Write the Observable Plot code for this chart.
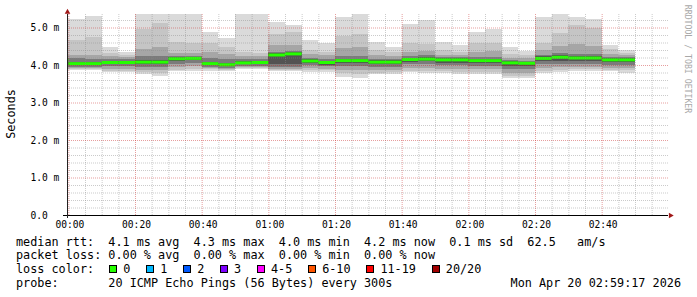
<!DOCTYPE html>
<html><head><meta charset="utf-8">
<script src="https://cdn.jsdelivr.net/npm/d3@7"></script>
<script src="https://cdn.jsdelivr.net/npm/@observablehq/plot@0.6"></script>
<style>
html,body{margin:0;padding:0;background:#fff;}
#wrap{position:relative;width:697px;height:297px;overflow:hidden;font-family:"DejaVu Sans Mono",monospace;background:#fff;}
#wrap svg{position:absolute;left:0;top:0;}
.lg{position:absolute;font-size:11.8px;line-height:14px;white-space:pre;color:#000;}
.box{position:absolute;width:6px;height:6px;border:1px solid #000;}
.rot{position:absolute;white-space:pre;}
</style></head><body><div id="wrap"></div>
<script>
// ---- data (minutes after 00:00, values in ms) ----
const binStart = [-5,0,5,10,15,20,25,30,35,40,45,50,55,60,65,70,75,80,85,90,95,100,105,110,115,120,125,130,135,140,145,150,155,160,165];
const median = [4.15,4.05,4.05,4.08,4.08,4.09,4.09,4.18,4.19,4.05,4.02,4.07,4.08,4.28,4.31,4.12,4.08,4.13,4.13,4.09,4.09,4.16,4.17,4.15,4.15,4.13,4.13,4.07,4.06,4.19,4.22,4.20,4.20,4.15,4.15];
const lossCount = [0,0,0,0,0,0,0,0,0,0,0,0,0,0,0,0,0,0,0,0,0,0,0,0,0,0,0,0,0,0,0,0,0,0,0];
// smoke layers, outer (lightest) to inner (darkest)
const hi1 = [5.00,5.22,5.31,4.49,4.36,5.36,5.36,5.36,5.36,4.89,4.73,5.36,5.36,5.15,5.07,4.67,4.60,5.29,5.36,4.61,4.49,5.09,5.20,4.61,4.53,4.88,4.96,4.47,4.38,5.29,5.36,5.29,5.24,4.53,4.40];
const hi2 = [4.50,4.67,4.74,4.33,4.28,4.96,5.11,4.62,4.58,4.58,4.49,4.36,4.33,4.83,4.88,4.40,4.36,4.77,4.83,4.40,4.36,4.58,4.57,4.40,4.36,4.58,4.58,4.30,4.27,4.58,4.85,5.08,4.98,4.42,4.33];
const hi3 = [4.35,4.28,4.27,4.23,4.21,4.42,4.49,4.31,4.32,4.36,4.30,4.25,4.24,4.53,4.53,4.30,4.27,4.45,4.47,4.27,4.25,4.36,4.37,4.28,4.27,4.36,4.37,4.20,4.18,4.40,4.50,4.55,4.52,4.30,4.27];
const hi4 = [4.25,4.18,4.17,4.16,4.15,4.23,4.25,4.24,4.25,4.20,4.15,4.16,4.16,4.36,4.38,4.20,4.17,4.25,4.25,4.17,4.16,4.25,4.26,4.22,4.21,4.22,4.22,4.14,4.12,4.28,4.32,4.30,4.30,4.21,4.21];
const hi5 = [4.19,4.09,4.09,4.11,4.11,4.13,4.13,4.21,4.22,4.09,4.06,4.11,4.12,4.31,4.34,4.15,4.12,4.17,4.17,4.13,4.13,4.20,4.21,4.18,4.18,4.17,4.17,4.10,4.09,4.23,4.26,4.24,4.24,4.18,4.18];
const lo5 = [4.10,4.00,4.00,4.03,4.03,4.03,4.03,4.12,4.13,3.99,3.97,4.02,4.03,4.02,4.03,4.05,4.01,4.06,4.06,4.02,4.02,4.09,4.10,4.06,4.06,4.05,4.05,3.98,3.97,4.10,4.12,4.11,4.11,4.07,4.07];
const lo4 = [4.05,3.95,3.95,3.97,3.97,3.96,3.96,4.04,4.05,3.94,3.93,3.97,3.98,3.95,3.96,3.99,3.97,3.98,3.98,3.96,3.96,4.02,4.03,3.99,3.99,3.98,3.98,3.90,3.89,4.02,4.04,4.03,4.03,4.00,4.00];
const lo3 = [3.97,3.92,3.92,3.90,3.90,3.88,3.88,3.96,3.97,3.91,3.90,3.94,3.95,3.90,3.90,3.92,3.90,3.88,3.87,3.88,3.88,3.93,3.93,3.90,3.90,3.90,3.90,3.80,3.80,3.92,3.95,3.95,3.95,3.92,3.93];
const lo2 = [3.92,3.90,3.90,3.85,3.85,3.82,3.80,3.88,3.89,3.89,3.87,3.92,3.92,3.87,3.87,3.86,3.86,3.78,3.76,3.80,3.81,3.85,3.85,3.83,3.82,3.82,3.82,3.72,3.72,3.84,3.87,3.89,3.89,3.87,3.86];
const lo1 = [3.88,3.87,3.87,3.81,3.81,3.75,3.72,3.84,3.85,3.84,3.83,3.89,3.89,3.84,3.84,3.82,3.82,3.69,3.66,3.75,3.77,3.81,3.80,3.78,3.76,3.76,3.76,3.65,3.65,3.78,3.82,3.85,3.85,3.83,3.80];
const smokeColors = ["#dadada","#c5c5c5","#a6a6a6","#7b7b7b","#535353"];
const lossLabels = ["0","1","2","3","4-5","6-10","11-19","20/20"];
const lossColors = ["#26ff00","#00b8ff","#0059ff","#7e00ff","#ff00ff","#ff5500","#ff0000","#a10000"];
const lossThresh = [0,1,2,3,5,10,19,20];
const xTicks = [0,20,40,60,80,100,120,140,160];
const yTicks = [0,1,2,3,4,5];
const statsRtt = "median rtt:  4.1 ms avg  4.3 ms max  4.0 ms min  4.2 ms now  0.1 ms sd  62.5   am/s";
const statsLoss = "packet loss: 0.00 % avg  0.00 % max  0.00 % min  0.00 % now";
const probeText = "probe:       20 ICMP Echo Pings (56 Bytes) every 300s";
const stampText = "Mon Apr 20 02:59:17 2026";
const binMinutes = 5;

// ---- build ----
const xDomain = [-0.4, 179.9], yDomain = [0, 5.36];
const lossColor = n => lossColors[lossThresh.findIndex(t => n <= t)];
const bins = binStart.map((t, i) => ({t, t2: t + binMinutes, med: median[i], loss: lossCount[i]}));
const los = [lo1, lo2, lo3, lo4, lo5], his = [hi1, hi2, hi3, hi4, hi5];
const layerMarks = smokeColors.map((c, k) =>
  Plot.rect(binStart.map((t, i) => ({t, t2: t + binMinutes, y1: los[k][i], y2: his[k][i]})),
    {x1: "t", x2: "t2", y1: "y1", y2: "y2", fill: c, clip: true, shapeRendering: "crispEdges"}));
const minorX = d3.range(0, 180, 5).filter(v => v % 20 !== 0);
const majorX = d3.range(0, 180, 20);
const minorY = d3.range(1, 27).map(i => i / 5).filter(v => Math.abs(v - Math.round(v)) > 1e-6);
const majorY = yTicks.filter(v => v > 0);
const fmtTime = m => String(Math.floor(m / 60)).padStart(2, "0") + ":" + String(m % 60).padStart(2, "0");
const yFmt = v => v === 0 ? "0.0" : v.toFixed(1) + " m";
const mono = "DejaVu Sans Mono";
const minorStyle = {stroke: "rgb(140,140,140)", strokeOpacity: 0.45, strokeDasharray: "1,1"};
const majorStyle = {stroke: "rgb(200,40,40)", strokeOpacity: 0.45, strokeDasharray: "1,1"};

const plot = Plot.plot({
  width: 697, height: 232,
  marginLeft: 67, marginRight: 29, marginTop: 14, marginBottom: 17,
  x: {domain: xDomain, axis: null},
  y: {domain: yDomain, axis: null},
  color: {type: "identity"},
  style: {background: "transparent", overflow: "visible"},
  marks: [
    ...layerMarks,
    Plot.ruleY(bins, {x1: "t", x2: "t2", y: "med", stroke: d => lossColor(d.loss), strokeWidth: 3, clip: true}),
    Plot.ruleX(minorX, minorStyle),
    Plot.ruleY(minorY, minorStyle),
    Plot.ruleX(majorX, majorStyle),
    Plot.ruleY(majorY, majorStyle),
    Plot.ruleY([0], {stroke: "#000", insetLeft: -4}),
    Plot.ruleX([xDomain[0]], {stroke: "#222", insetBottom: -3}),
    Plot.dot([{x: xDomain[1], y: 0}], {x: "x", y: "y", symbol: "triangle", r: 2.1, rotate: 90, fill: "#a01818", stroke: null, dx: 2}),
    Plot.dot([{x: xDomain[0], y: yDomain[1]}], {x: "x", y: "y", symbol: "triangle", r: 2.1, fill: "#a01818", stroke: null, dy: -2.5}),
    Plot.text(xTicks, {x: d => d, frameAnchor: "bottom", dy: 9.5, dx: 1, text: fmtTime, fontFamily: mono, fontSize: 9.6, lineAnchor: "middle", fill: "#000"}),
    Plot.text(yTicks, {y: d => d, frameAnchor: "left", dx: -37, textAnchor: "start", text: yFmt, fontFamily: mono, fontSize: 9.6, lineAnchor: "middle", fill: "#000"})
  ]
});
const wrap = document.getElementById("wrap");
wrap.appendChild(plot);

function add(cls, text, css) {
  const d = document.createElement("div");
  d.className = cls; d.textContent = text; Object.assign(d.style, css); wrap.appendChild(d); return d;
}
// axis title & watermark
add("rot", "Seconds", {left: "10.5px", top: "113.5px", fontSize: "11.8px", lineHeight: "12px", color: "#000",
  transform: "translate(-50%,-50%) rotate(-90deg)"});
add("rot", "RRDTOOL / TOBI OETIKER", {left: "687px", top: "59px", fontSize: "8.2px", lineHeight: "9px", color: "#a8a8a8",
  transform: "translate(-50%,-50%) rotate(90deg)"});
// legend lines
add("lg", statsRtt, {left: "16px", top: "235px"});
add("lg", statsLoss, {left: "16px", top: "248.3px"});
add("lg", "loss color:", {left: "16px", top: "262px"});
add("lg", probeText, {left: "16px", top: "275.7px"});
add("lg", stampText, {right: "16px", top: "275.7px"});
let bx = 109;
lossLabels.forEach((lab, i) => {
  const b = document.createElement("div");
  b.className = "box"; b.style.left = bx + "px"; b.style.top = "265px"; b.style.background = lossColors[i];
  wrap.appendChild(b);
  add("lg", lab, {left: (bx + 14.3) + "px", top: "262px"});
  bx = bx + 14.3 + lab.length * 7.12 + 15.5;
});
</script></body></html>
